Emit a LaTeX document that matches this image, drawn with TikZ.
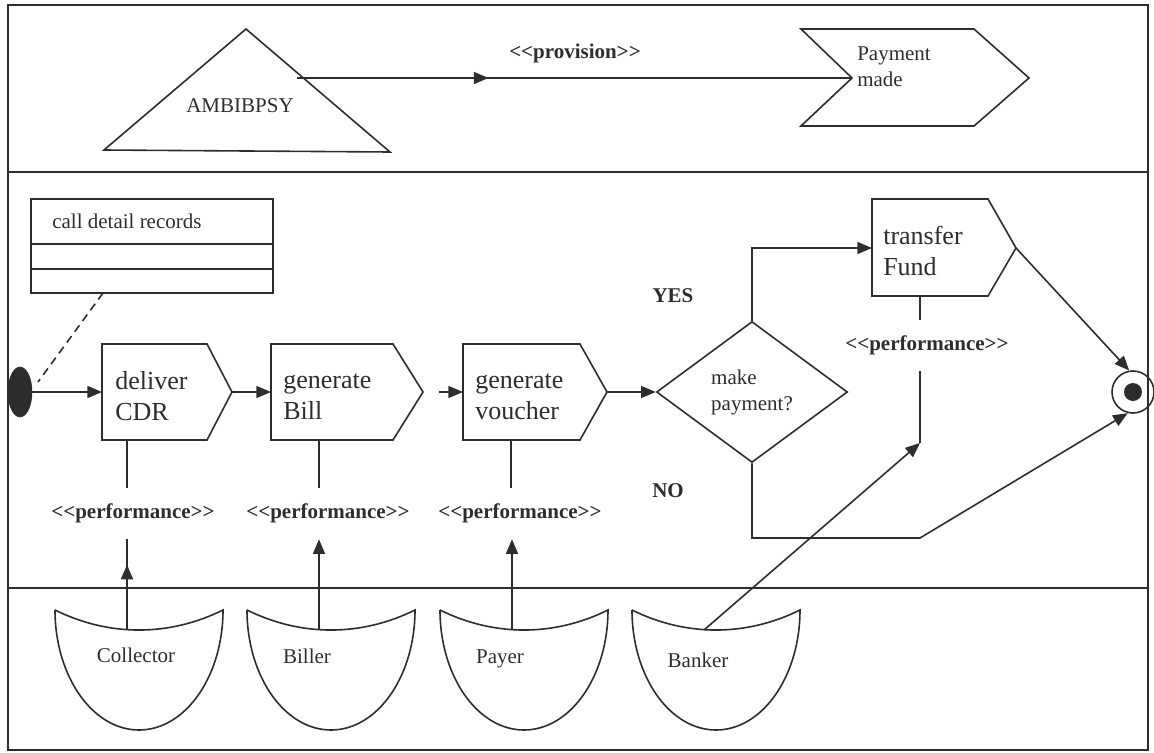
\documentclass[tikz,border=0pt]{standalone}
\usepackage{fontspec}
\setmainfont{Liberation Serif}
\usetikzlibrary{arrows.meta,shapes.geometric,decorations.markings}
\definecolor{ink}{RGB}{45,45,45}
% stereotype brackets, kept as plain "<<" and ">>" characters
\newcommand{\stp}[1]{<\kern0pt<#1>\kern0pt>}

\begin{document}
\begin{tikzpicture}[x=0.75pt,y=-0.75pt,
  ln/.style={draw=ink, line width=1.2pt},
  flow/.style={ln, -{Triangle[length=11pt,width=9pt]}},
  midarrow/.style={postaction={decorate}, decoration={markings,
      mark=at position #1 with {\arrow[ink]{Triangle[length=11pt,width=9pt]}}}},
  bigtxt/.style={font=\fontsize{19.5}{23.25}\selectfont, text=ink, align=left, inner sep=0pt},
  smalltxt/.style={font=\fontsize{15.75}{19.5}\selectfont, text=ink, align=left, inner sep=0pt},
  boldtxt/.style={font=\bfseries\fontsize{15.75}{19.5}\selectfont, text=ink, inner sep=0pt},
  stereo/.style={font=\bfseries\fontsize{15.75}{19.5}\selectfont, text=ink,
      inner xsep=0pt, inner ysep=12pt, text height=10.5pt, text depth=3.75pt},
]
\useasboundingbox (0,0) rectangle (1154,753);

% ---------------- swimlane frame ----------------
\draw[ln] (8,5) rectangle (1148,750);
\draw[ln] (8,172) -- (1148,172);
\draw[ln] (8,588) -- (1148,588);

% ---------------- top lane: provision ----------------
\draw[ln] (246,29) -- (390,152) -- (104,150) -- cycle;
\node[smalltxt, anchor=base] (ambi) at (240,112) {AMBIBPSY};
\coordinate (ambi-out) at (297,78);

\draw[ln] (801,29) -- (974,29) -- (1029,78) -- (974,126) -- (801,126) -- (852,78) -- cycle;
% multi-line nodes: the base anchor sits on the last line
\node[smalltxt, anchor=base west] (paid) at (857,86) {Payment\\made};
\coordinate (paid-in) at (852,78);

\draw[ln, midarrow=0.345] (ambi-out) -- (paid-in);
\node[boldtxt, anchor=base] (prov) at (575,58) {\stp{provision}};

% ---------------- middle lane: activities ----------------
% data object with two empty compartments
\node[ln, rectangle, minimum width=181.5pt, minimum height=70.5pt, inner sep=0pt] (cdrobj) at (152,246) {};
\draw[ln] (31,244) -- (273,244);
\draw[ln] (31,269) -- (273,269);
\node[smalltxt, anchor=base west] (cdrtitle) at (52,228) {call detail records};
\coordinate (objfoot) at (103,293);

% initial state
\node[ellipse, fill=ink, draw=ink, minimum width=18pt, minimum height=37.5pt, inner sep=0pt] (start) at (20,392) {};
\coordinate (objlink) at (38,382);
\draw[ln, dash pattern=on 6pt off 4pt] (objfoot) -- (objlink);

% activity outlines
\draw[ln] (102,344) -- (207,344) -- (232,392) -- (207,440) -- (102,440) -- cycle;
\draw[ln] (271,344) -- (393,344) -- (423,392) -- (393,440) -- (271,440) -- cycle;
\draw[ln] (463,344) -- (580,344) -- (607,392) -- (580,440) -- (463,440) -- cycle;
\draw[ln] (872,199) -- (988,199) -- (1016,248) -- (988,296) -- (872,296) -- cycle;

\node[bigtxt, anchor=base west] (cdr) at (115,420) {deliver\\CDR};
\node[bigtxt, anchor=base west] (bill) at (283,419) {generate\\Bill};
\node[bigtxt, anchor=base west] (voucher) at (475,419) {generate\\voucher};
\node[bigtxt, anchor=base west] (fund) at (883,275) {transfer\\Fund};

\coordinate (cdr-in) at (102,392);  \coordinate (cdr-out) at (232,392);  \coordinate (cdr-foot) at (127,440);
\coordinate (bill-in) at (271,392); \coordinate (bill-lead) at (439,392); \coordinate (bill-foot) at (319,440);
\coordinate (vou-in) at (463,392);  \coordinate (vou-out) at (607,392);  \coordinate (vou-foot) at (511,440);
\coordinate (fund-in) at (872,248); \coordinate (fund-out) at (1016,248); \coordinate (fund-foot) at (920,296);

% decision
\node[diamond, ln, minimum width=143.25pt, minimum height=105.75pt, inner sep=0pt,
      font=\fontsize{15.75}{19.5}\selectfont, text=ink, align=left] (dec) at (752,392) {make\\payment?};
\node[boldtxt, anchor=base] (yes) at (673,302) {YES};
\node[boldtxt, anchor=base] (no) at (668,497) {NO};

% final state
\node[circle, ln, minimum size=31.5pt, inner sep=0pt] (final) at (1133,392) {};
\node[circle, fill=ink, minimum size=13.5pt, inner sep=0pt] (finaldot) at (final.center) {};

% control flow
\draw[flow] (start) -- (cdr-in);
\draw[flow] (cdr-out) -- (bill-in);
\draw[flow] (bill-lead) -- (vou-in);
\draw[flow] (vou-out) -- (dec);
\draw[flow] (dec.north) |- (fund-in);
\draw[flow] (fund-out) -- (final.100);
\coordinate (no-bend) at (920,538);
\draw[flow] (dec.south) |- (no-bend) -- (final.256);

% performance stereotypes
\node[stereo, anchor=base] (perf-cdr) at (133,518) {\stp{performance}};
\node[stereo, anchor=base] (perf-bill) at (328,518) {\stp{performance}};
\node[stereo, anchor=base] (perf-vou) at (520,518) {\stp{performance}};
\node[stereo, anchor=base] (perf-fund) at (927,350) {\stp{performance}};

\draw[ln] (cdr-foot) -- (cdr-foot |- perf-cdr.north);
\draw[ln] (bill-foot) -- (bill-foot |- perf-bill.north);
\draw[ln] (vou-foot) -- (vou-foot |- perf-vou.north);
\draw[ln] (fund-foot) -- (fund-foot |- perf-fund.north);
\coordinate (fund-perf-end) at (920,443);
\draw[ln] (fund-foot |- perf-fund.south) -- (fund-perf-end);

% ---------------- bottom lane: roles ----------------
% each role: sagging top edge over a half-elliptic bowl
\foreach \cx/\nm in {139/collector, 331/biller, 524/payer, 716/banker}{
  \draw[ln] (\cx-84,610) .. controls (\cx-30,636.7) and (\cx+30,636.7) .. (\cx+84,610)
            .. controls (\cx+84,676.3) and (\cx+46.4,730) .. (\cx,730)
            .. controls (\cx-46.4,730) and (\cx-84,676.3) .. (\cx-84,610);
  \coordinate (\nm-top) at (\cx-12,630);
}
\node[smalltxt, anchor=base] (collector) at (136,662) {Collector};
\node[smalltxt, anchor=base] (biller) at (307,663) {Biller};
\node[smalltxt, anchor=base] (payer) at (500,663) {Payer};
\node[smalltxt, anchor=base] (banker) at (698,667) {Banker};

\draw[ln, midarrow=0.72] (collector-top) -- (collector-top |- perf-cdr.south);
\draw[flow] (biller-top) -- (biller-top |- perf-bill.south);
\draw[flow] (payer-top) -- (payer-top |- perf-vou.south);
\draw[flow] (banker-top) -- (fund-perf-end);

\end{tikzpicture}
\end{document}
